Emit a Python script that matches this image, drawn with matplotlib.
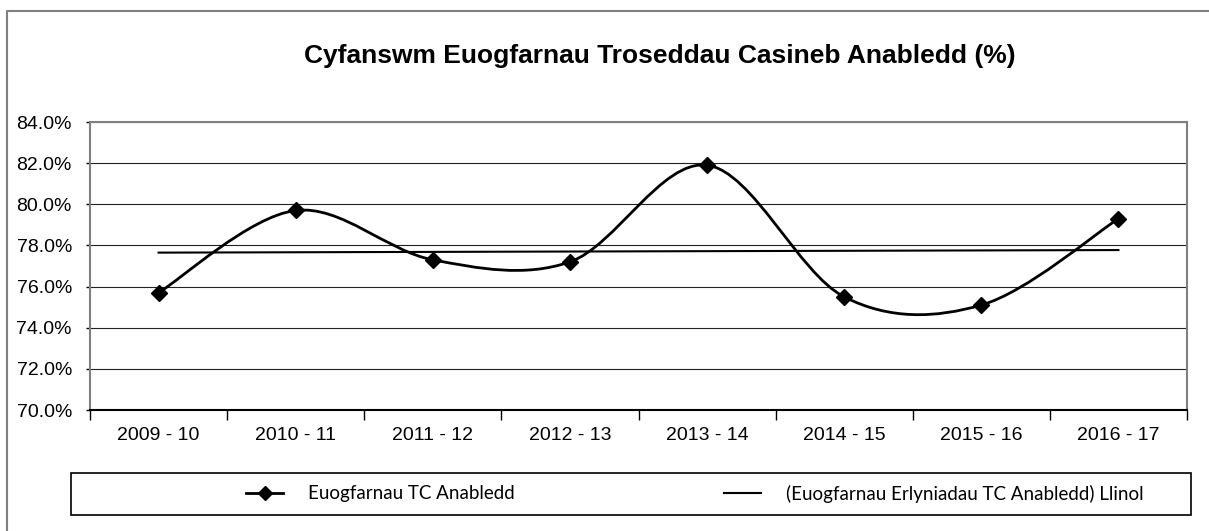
import numpy as np
import matplotlib
matplotlib.use("Agg")
import matplotlib.pyplot as plt
from matplotlib.path import Path
from matplotlib.patches import PathPatch, Rectangle
from matplotlib.lines import Line2D

# data
years = ["2009 - 10", "2010 - 11", "2011 - 12", "2012 - 13",
         "2013 - 14", "2014 - 15", "2015 - 16", "2016 - 17"]
conviction_pct = [75.7, 79.7, 77.3, 77.2, 81.9, 75.5, 75.1, 79.3]

title = "Cyfanswm Euogfarnau Troseddau Casineb Anabledd (%)"
series_label = "Euogfarnau TC Anabledd"
trend_label = "(Euogfarnau Erlyniadau TC Anabledd) Llinol"

x = np.arange(len(years))
y = np.array(conviction_pct)

# linear trendline like Excel
slope, icpt = np.polyfit(x, y, 1)
trend = slope * x + icpt

plt.rcParams["font.family"] = ["Liberation Sans", "DejaVu Sans"]

fig = plt.figure(figsize=(12.09, 5.31), dpi=100)
ax = fig.add_axes([90 / 1209, 1 - 410 / 531, 1097 / 1209, 288 / 531])

# smoothed line (Excel-style bezier through the points)
verts = [(x[0], y[0])]
codes = [Path.MOVETO]
for i in range(len(x) - 1):
    p0 = np.array([x[max(i - 1, 0)], y[max(i - 1, 0)]])
    p1 = np.array([x[i], y[i]])
    p2 = np.array([x[i + 1], y[i + 1]])
    p3 = np.array([x[min(i + 2, len(x) - 1)], y[min(i + 2, len(x) - 1)]])
    c1 = p1 + (p2 - p0) / 6
    c2 = p2 - (p3 - p1) / 6
    verts += [tuple(c1), tuple(c2), tuple(p2)]
    codes += [Path.CURVE4] * 3
ax.add_patch(PathPatch(Path(verts, codes), fill=False, lw=2, ec="black", zorder=3))
ax.plot(x, y, ls="none", marker="D", ms=8, color="black", zorder=4)
ax.plot(x, trend, color="black", lw=1.5, zorder=2)

ax.set_xlim(-0.5, len(years) - 0.5)
ax.set_ylim(70, 84)
ax.set_yticks(np.arange(70, 84.1, 2))
ax.set_yticklabels([f"{v:.1f}%" for v in np.arange(70, 84.1, 2)], fontsize=14)
ax.set_xticks(x)
ax.set_xticklabels(years, fontsize=14)
ax.tick_params(axis="x", length=0, pad=12)
ax.set_xticks(np.arange(-0.5, len(years)), minor=True)
ax.tick_params(axis="x", which="minor", length=7, direction="out", width=1)
ax.tick_params(axis="y", length=3, direction="out", width=1, pad=10)
ax.grid(axis="y", color="#222222", lw=0.8)
ax.set_axisbelow(True)

for side in ["top", "right", "left"]:
    ax.spines[side].set_color("#808080")
    ax.spines[side].set_linewidth(1.5)
ax.spines["bottom"].set_linewidth(1.5)

fig.text(660 / 1209, 1 - 56 / 531, title, ha="center", va="center",
         fontsize=19, fontweight="bold")

# legend with its own frame
fig.patches.append(Rectangle((71 / 1209, 1 - 515 / 531), 1120 / 1209, 42 / 531,
                             transform=fig.transFigure, fill=False,
                             ec="black", lw=1.2))
legend_font = {"family": "Lato", "size": 13.5}
entries = [
    (Line2D([], [], color="black", lw=2, marker="D", ms=7), series_label, 229),
    (Line2D([], [], color="black", lw=1.5), trend_label, 707),
]
for handle, label, left in entries:
    fig.legend([handle], [label], loc="center left",
               bbox_to_anchor=(left / 1209, 1 - 494 / 531), frameon=False,
               prop=legend_font, handlelength=2.0, handletextpad=1.3)

# outer chart border (top and left visible)
fig.add_artist(Line2D([7 / 1209, 7 / 1209, 1], [0, 1 - 11 / 531, 1 - 11 / 531],
                      transform=fig.transFigure, color="#808080", lw=1.5))

fig.savefig("out.png", dpi=100)
